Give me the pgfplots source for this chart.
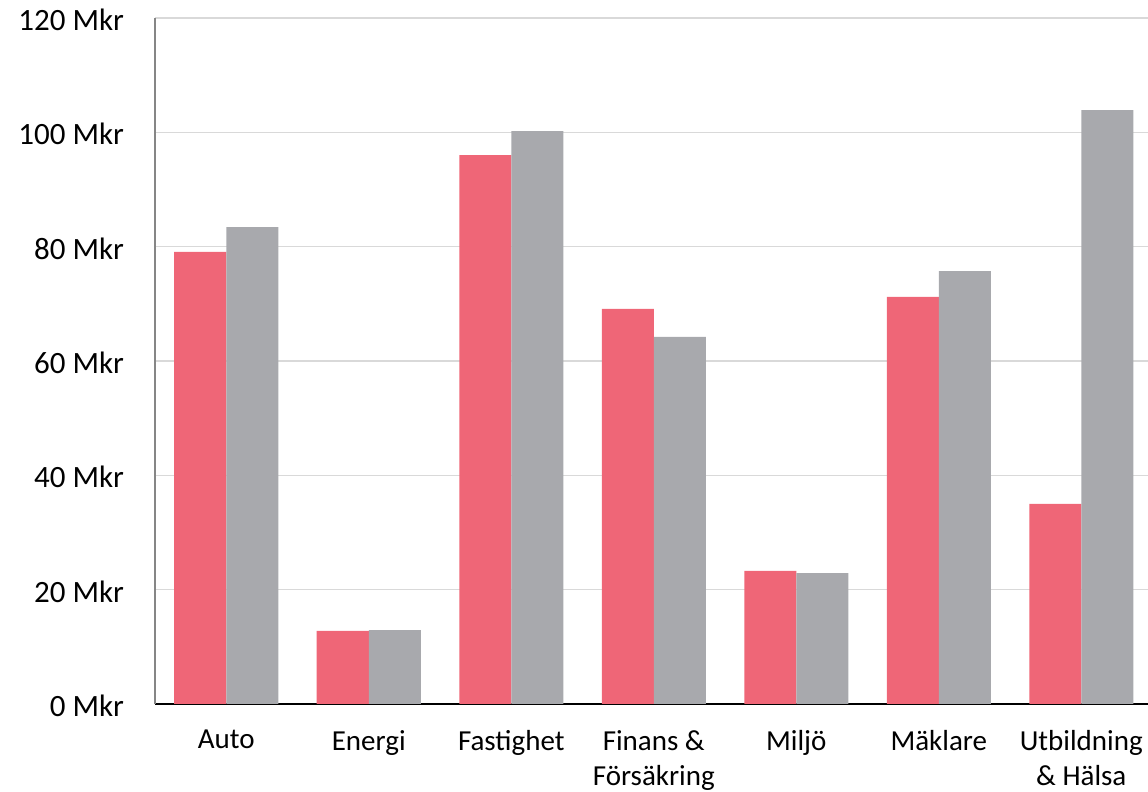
\documentclass[border=0pt]{standalone}
\usepackage{fontspec}
\setmainfont{Carlito}
\usepackage{pgfplots}
\pgfplotsset{compat=1.18}
\definecolor{barred}{HTML}{EF6677}
\definecolor{bargray}{HTML}{A8A9AD}
\definecolor{gridgray}{HTML}{D9D9D9}
\definecolor{axgray}{HTML}{868686}
\begin{document}
\begin{tikzpicture}
\useasboundingbox (0,0) rectangle (574pt,396pt);
\begin{axis}[
  at={(77.5pt,44pt)}, anchor=south west,
  scale only axis,
  width=496.5pt, height=343pt,
  xmin=-0.5, xmax=6.468,
  ymin=0, ymax=120,
  ybar=0pt, bar width=0.365,
  axis x line=bottom, axis y line=left,
  axis line style={-},
  x axis line style={black, line width=0.8pt},
  y axis line style={axgray, line width=0.6pt},
  ymajorgrids, grid style={gridgray, line width=0.75pt},
  major tick length=0pt,
  xtick={0,1,2,3,4,5,6},
  xticklabels={Auto, Energi, Fastighet, {Finans \&\\Försäkring}, Miljö, Mäklare, {Utbildning\\\& Hälsa}},
  xticklabel style={align=center, anchor=north, yshift=-9.5pt, font=\fontsize{14.5}{17.5}\selectfont},
  ytick={0,20,40,60,80,100,120},
  yticklabels={0 Mkr, 20 Mkr, 40 Mkr, 60 Mkr, 80 Mkr, 100 Mkr, 120 Mkr},
  yticklabel style={anchor=east, xshift=-12pt, yshift=-1pt, font=\fontsize{15.5}{18}\selectfont},
  clip=false,
]
\addplot[fill=barred, draw=none] coordinates {(0,79.1) (1,12.8) (2,96.0) (3,69.1) (4,23.3) (5,71.2) (6,35.0)};
\addplot[fill=bargray, draw=none] coordinates {(0,83.4) (1,12.9) (2,100.2) (3,64.2) (4,22.9) (5,75.7) (6,103.9)};
\end{axis}
\end{tikzpicture}
\end{document}
